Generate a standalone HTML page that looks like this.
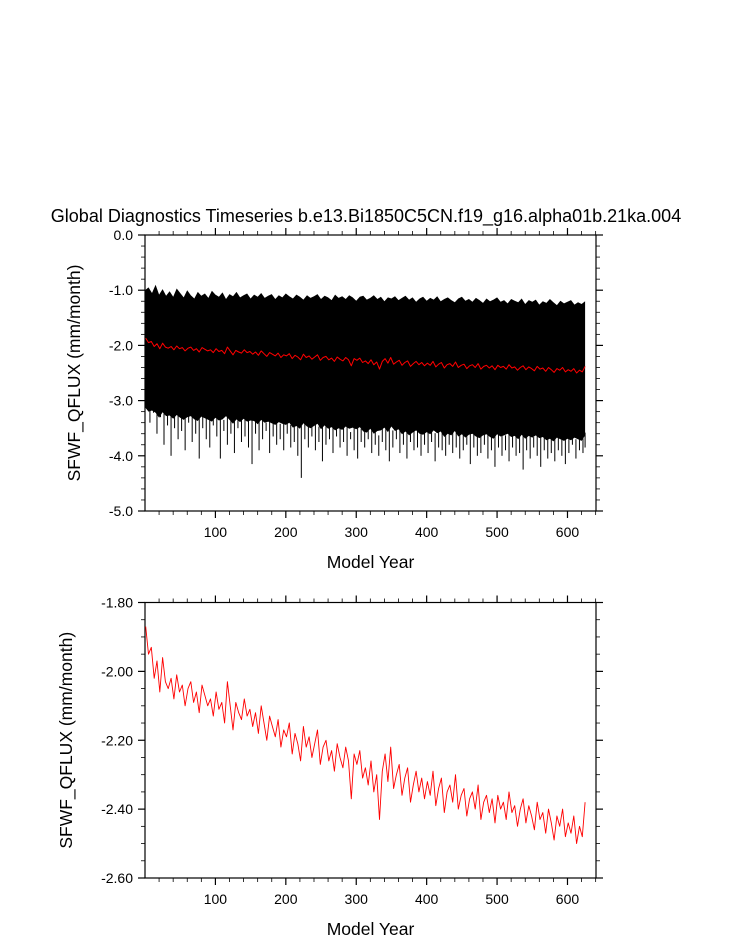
<!DOCTYPE html>
<html><head><meta charset="utf-8"><style>
body{margin:0;background:#fff;}
svg text{font-family:"Liberation Sans",Arial,sans-serif;fill:#000;}
</style></head><body>
<svg id="chart" width="733" height="945" viewBox="0 0 733 945" xmlns="http://www.w3.org/2000/svg">
<text x="366" y="222" font-size="18" text-anchor="middle">Global Diagnostics Timeseries b.e13.Bi1850C5CN.f19_g16.alpha01b.21ka.004</text>
<g id="top"></g><g id="bot"></g>
</svg>
<script>
const redYearStart = 1, redYearStep = 4;
const redValues = [-1.87,-1.95,-1.93,-2.02,-1.97,-2.06,-1.96,-2.03,-2.05,-2.02,-2.08,-2.01,-2.06,-2.04,-2.10,-2.05,-2.03,-2.09,-2.06,-2.12,-2.04,-2.07,-2.10,-2.08,-2.13,
-2.06,-2.11,-2.09,-2.15,-2.03,-2.10,-2.17,-2.09,-2.12,-2.14,-2.08,-2.13,-2.11,-2.16,-2.12,-2.18,-2.10,-2.15,-2.20,-2.13,-2.16,-2.19,-2.14,-2.22,-2.17,
-2.19,-2.15,-2.24,-2.18,-2.21,-2.26,-2.16,-2.22,-2.19,-2.25,-2.21,-2.17,-2.27,-2.22,-2.20,-2.26,-2.23,-2.29,-2.21,-2.25,-2.28,-2.22,-2.26,-2.37,-2.24,
-2.27,-2.23,-2.31,-2.28,-2.33,-2.26,-2.35,-2.30,-2.43,-2.29,-2.24,-2.32,-2.22,-2.34,-2.30,-2.27,-2.36,-2.31,-2.28,-2.38,-2.33,-2.29,-2.35,-2.31,-2.37,
-2.32,-2.36,-2.29,-2.39,-2.34,-2.31,-2.41,-2.35,-2.33,-2.38,-2.30,-2.40,-2.36,-2.34,-2.42,-2.37,-2.35,-2.40,-2.33,-2.43,-2.38,-2.36,-2.41,-2.37,-2.44,
-2.36,-2.40,-2.38,-2.43,-2.35,-2.41,-2.39,-2.45,-2.40,-2.37,-2.44,-2.39,-2.42,-2.46,-2.38,-2.43,-2.41,-2.47,-2.40,-2.44,-2.49,-2.42,-2.45,-2.40,-2.48,
-2.44,-2.47,-2.42,-2.50,-2.45,-2.48,-2.38];
const monthlyYearStep = 5;
const monthlyHigh = [-1.00,-0.95,-1.05,-0.90,-1.08,-0.98,-1.10,-1.02,-1.12,-0.97,
-1.05,-1.13,-1.00,-1.09,-1.15,-1.03,-1.10,-1.06,-1.14,-1.01,
-1.08,-1.12,-1.04,-1.16,-1.07,-1.11,-1.03,-1.13,-1.09,-1.06,
-1.15,-1.08,-1.12,-1.05,-1.14,-1.10,-1.07,-1.16,-1.09,-1.13,
-1.06,-1.11,-1.15,-1.08,-1.12,-1.17,-1.09,-1.14,-1.11,-1.07,
-1.16,-1.10,-1.13,-1.18,-1.08,-1.14,-1.11,-1.16,-1.09,-1.13,
-1.19,-1.12,-1.10,-1.17,-1.14,-1.09,-1.16,-1.12,-1.20,-1.13,
-1.15,-1.11,-1.18,-1.14,-1.10,-1.17,-1.13,-1.21,-1.15,-1.12,
-1.19,-1.14,-1.17,-1.11,-1.20,-1.16,-1.13,-1.18,-1.22,-1.15,
-1.12,-1.19,-1.16,-1.21,-1.14,-1.18,-1.23,-1.15,-1.20,-1.17,
-1.13,-1.21,-1.18,-1.24,-1.16,-1.19,-1.22,-1.15,-1.25,-1.18,
-1.21,-1.17,-1.26,-1.20,-1.23,-1.16,-1.22,-1.27,-1.19,-1.24,
-1.21,-1.18,-1.26,-1.22,-1.25,-1.20];
const monthlyLow = [-3.00,-3.40,-3.10,-3.60,-3.30,-3.80,-3.45,-4.00,-3.50,-3.70,
-3.55,-3.90,-3.40,-3.75,-3.60,-4.05,-3.50,-3.70,-3.85,-3.45,
-3.65,-4.05,-3.55,-3.80,-3.60,-3.95,-3.50,-3.75,-3.65,-3.85,
-4.15,-3.60,-3.90,-3.70,-3.55,-3.95,-3.65,-3.80,-3.70,-3.90,
-3.60,-3.85,-3.75,-4.00,-4.40,-3.70,-3.85,-3.65,-3.90,-3.75,
-4.10,-3.80,-3.70,-3.95,-3.65,-3.85,-3.75,-4.00,-3.70,-3.90,
-4.05,-3.75,-3.85,-3.70,-3.95,-3.80,-4.00,-3.75,-3.90,-4.10,
-3.85,-3.70,-3.95,-3.80,-4.05,-3.75,-3.90,-3.85,-4.00,-3.80,
-3.95,-3.75,-4.10,-3.85,-3.90,-4.00,-3.80,-3.95,-3.85,-4.05,
-3.90,-3.80,-4.15,-3.85,-4.00,-3.95,-3.80,-4.05,-3.90,-4.20,
-3.85,-4.00,-3.90,-4.10,-3.85,-4.00,-3.95,-4.25,-3.90,-4.05,
-3.85,-4.00,-4.20,-3.90,-4.05,-3.95,-4.10,-3.90,-4.00,-4.15,
-3.95,-3.80,-4.05,-3.90,-3.95,-3.85];
const xTicks = [100,200,300,400,500,600];
const topYTicks = ["0.0","-1.0","-2.0","-3.0","-4.0","-5.0"];
const botYTicks = ["-1.80","-2.00","-2.20","-2.40","-2.60"];

const NS="http://www.w3.org/2000/svg";
const X0=145, X1=596, XMIN=0, XMAX=640.5;
const sx=v=>X0+(v-XMIN)/(XMAX-XMIN)*(X1-X0);
function mk(p,tag,a){const e=document.createElementNS(NS,tag);for(const k in a)e.setAttribute(k,a[k]);p.appendChild(e);return e;}
function redAt(yr){const i=Math.min(redValues.length-1,Math.max(0,Math.round((yr-redYearStart)/redYearStep)));return redValues[i];}

function frame(g,Y0,Y1,ymax,ymin,labels,minorStep,majorStep,titleX){
  const sy=v=>Y0+(ymax-v)/(ymax-ymin)*(Y1-Y0);
  const box=mk(g,'rect',{x:X0,y:Y0,width:X1-X0,height:Y1-Y0,fill:'none',stroke:'#000','stroke-width':1.2});
  
  
  for(let v=20;v<=XMAX;v+=20){
    const maj=v%100===0, L=maj?7:4, x=sx(v);
    const t1=mk(g,'line',{x1:x,x2:x,y1:Y1,y2:Y1+L,stroke:'#000','stroke-width':maj?1.2:0.8});
    
    
    const t2=mk(g,'line',{x1:x,x2:x,y1:Y0,y2:Y0-L,stroke:'#000','stroke-width':maj?1.2:0.8});
    
    
  }
  xTicks.forEach(v=>{const t=mk(g,'text',{x:sx(v),y:Y1+26,'font-size':14,'text-anchor':'middle'});t.textContent=v;
    
    });
  const n=Math.round((ymax-ymin)/minorStep);
  for(let i=0;i<=n;i++){
    const v=ymax-i*minorStep, r=(ymax-v)/majorStep, maj=Math.abs(r-Math.round(r))<1e-6, L=maj?7:4, y=sy(v);
    const a=mk(g,'line',{x1:X0-L,x2:X0,y1:y,y2:y,stroke:'#000','stroke-width':maj?1.2:0.8});
    
    
    const b=mk(g,'line',{x1:X1,x2:X1+L,y1:y,y2:y,stroke:'#000','stroke-width':maj?1.2:0.8});
    
    
  }
  labels.forEach(s=>{const t=mk(g,'text',{x:X0-12,y:sy(parseFloat(s))+5,'font-size':14,'text-anchor':'end'});t.textContent=s;
    
    });
  const xt=mk(g,'text',{x:(X0+X1)/2,y:Y1+57,'font-size':17.5,'text-anchor':'middle'});xt.textContent='Model Year';
  
  
  const cy=(Y0+Y1)/2;
  const yt=mk(g,'text',{x:0,y:0,'font-size':17.5,'text-anchor':'middle',transform:`translate(${titleX},${cy}) rotate(-90)`});yt.textContent='SFWF_QFLUX (mm/month)';
  
  
  return sy;
}
function redLine(g,sy,w){
  let d='';redValues.forEach((v,i)=>{d+=(i?'L':'M')+sx(redYearStart+i*redYearStep).toFixed(1)+','+sy(v).toFixed(1);});
  const p=mk(g,'path',{d,fill:'none',stroke:'#ff0000','stroke-width':w,'stroke-linejoin':'round'});
  
  
}
// top panel
const gt=document.getElementById('top');
const syT=frame(gt,235,511,0,-5,topYTicks,0.2,1,80);
let topPath='',botPath='';
monthlyHigh.forEach((v,i)=>{const yr=i*monthlyYearStep;topPath+=(i?'L':'M')+sx(yr).toFixed(1)+','+syT(v).toFixed(1);});
for(let i=monthlyHigh.length-1;i>=0;i--){const yr=i*monthlyYearStep;botPath+='L'+sx(yr).toFixed(1)+','+syT(redAt(yr)-1.25).toFixed(1);}
const band=mk(gt,'path',{d:topPath+botPath+'Z',fill:'#000'});


monthlyLow.forEach((v,i)=>{const yr=i*monthlyYearStep+2;const x=sx(Math.min(yr,625));
  const s=mk(gt,'line',{x1:x,x2:x,y1:syT(redAt(yr)-1.2),y2:syT(v),stroke:'#000','stroke-width':1});
  
  });
redLine(gt,syT,1);
// bottom panel
const gb=document.getElementById('bot');
const syB=frame(gb,602.5,878,-1.8,-2.6,botYTicks,0.05,0.2,72);
redLine(gb,syB,0.9);
</script>
</body></html>
